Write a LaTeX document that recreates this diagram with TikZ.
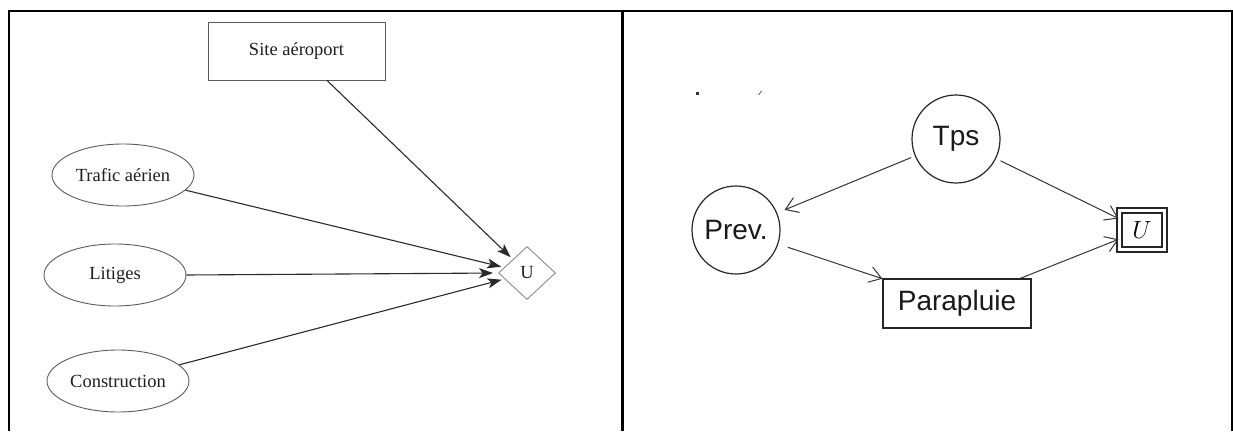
\documentclass[tikz,border=0pt]{standalone}
\usepackage{fontspec}
\setmainfont{Liberation Serif}
\newfontfamily\sansf{Liberation Sans}
\usetikzlibrary{arrows.meta,shapes.geometric}
\definecolor{edgegray}{HTML}{2A2A2A}
\definecolor{shapegray}{HTML}{5A5A5A}
\definecolor{diagray}{HTML}{8A8A8A}
\definecolor{txtgray}{HTML}{1E1E1E}
\tikzset{
  frame/.style={line width=2.3pt, black},
  lnode/.style={draw=shapegray, line width=0.9pt, text=txtgray, inner sep=0pt,
    font=\fontsize{18.5}{20}\selectfont},
  lellipse/.style={lnode, ellipse, minimum width=142pt, minimum height=62pt},
  lrect/.style={lnode, rectangle, minimum width=177pt, minimum height=58pt},
  ldiamond/.style={lnode, draw=diagray, diamond, minimum width=57pt, minimum height=53pt},
  ledge/.style={draw=edgegray, line width=1.1pt, -{Stealth[length=14pt,width=10pt,inset=3.5pt]}},
  rnode/.style={draw=black!85, line width=1.2pt, inner sep=0pt, text=black!90,
    font=\sansf\fontsize{28}{30}\selectfont},
  rcircle/.style={rnode, circle, minimum size=88pt},
  rrect/.style={rnode, rectangle, minimum width=148pt, minimum height=49pt},
  ubox/.style={draw=black!85, line width=2pt, double, double distance=3pt, rectangle,
    minimum width=45pt, minimum height=39pt, inner sep=0pt,
    font=\fontsize{30}{32}\selectfont},
  redge/.style={draw=black!80, line width=1pt, -{Straight Barb[length=12pt,width=16pt]}},
}
\begin{document}
\begin{tikzpicture}[x=1pt,y=-1pt]
\useasboundingbox (0,0) rectangle (1233,431);
% table frame
\draw[frame] (9,431) -- (9,11) -- (1233,11);
\draw[frame] (622.5,11) -- (622.5,431);
\draw[frame] (1232,11) -- (1232,431);

% left panel
\node[lrect] (site) at (296.5,51) {Site aéroport};
\node[lellipse] (trafic) at (123,175) {Trafic aérien};
\node[lellipse] (litiges) at (115,275) {Litiges};
\node[lellipse] (constr) at (118,381) {Construction};
\node[ldiamond] (U) at (527,273) {U};
\draw[ledge, shorten >=3pt] (site) -- (U);
\draw[ledge, shorten >=3pt] (trafic) -- (U);
\draw[ledge, shorten >=5pt] (litiges.east) -- (U.west);
\draw[ledge, shorten >=3pt] (constr) -- (U);

% right panel
\fill[black!80] (695.5,91.5) rectangle (698.5,94.5);
\coordinate (tickA) at (758.5,95);
\coordinate (tickB) at (761.5,91);
\draw[black!60, line width=0.9pt] (tickA) -- (tickB);

\node[rcircle] (tps) at (956,139) {Tps};
\node[rcircle] (prev) at (736,230) {Prev.};
\node[rrect] (para) at (957,303.5) {Parapluie};
\node[ubox] (ub) at (1142,230) {$U$};
\draw[redge, shorten <=4pt, shorten >=8pt] (tps) -- (prev);
\draw[redge, shorten <=10pt] (prev) -- (para);
\draw[redge, shorten <=5pt] (tps) -- (ub);
\draw[redge] (para) -- (ub);
\end{tikzpicture}
\end{document}
